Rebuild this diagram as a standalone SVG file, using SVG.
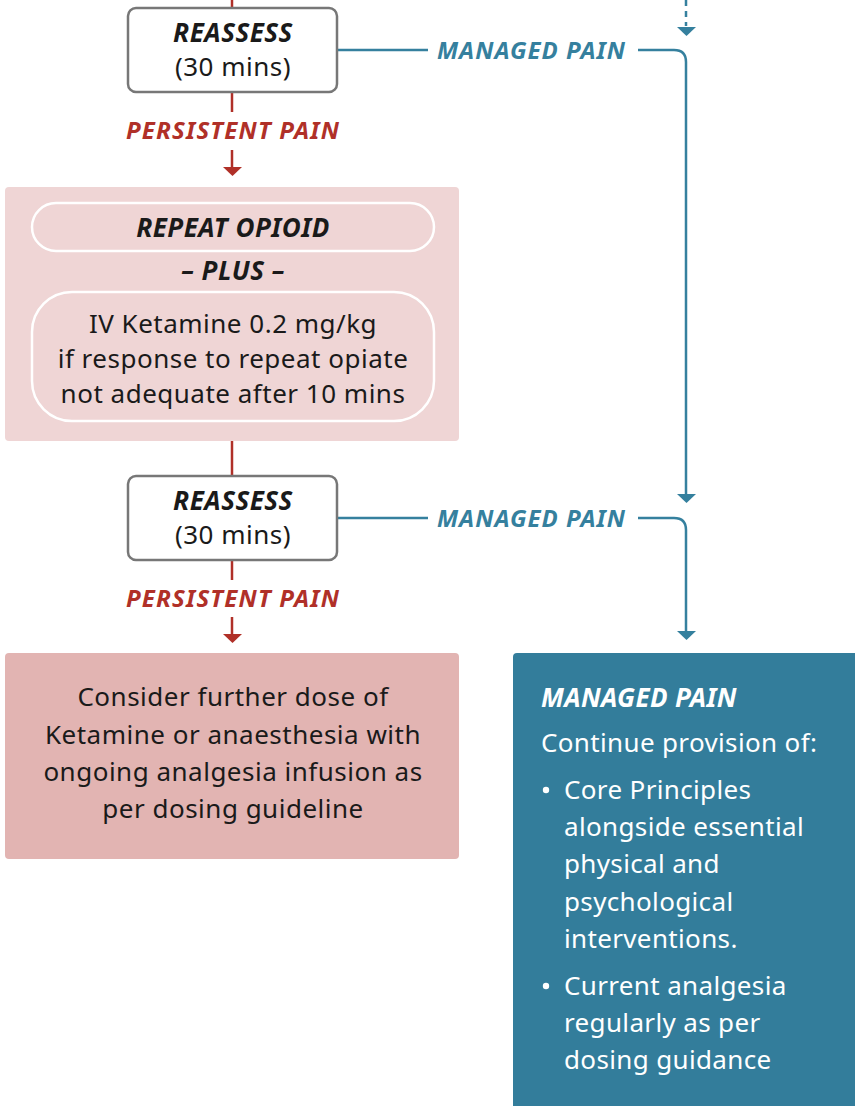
<svg xmlns="http://www.w3.org/2000/svg" width="855" height="1106" viewBox="0 0 855 1106">
<style>
text{font-family:"Noto Sans","Open Sans",sans-serif}
.t{fill:#1a1a1a;font-size:26px;text-anchor:middle;letter-spacing:0.5px}
.bi{font-weight:bold;font-style:italic}
.red{fill:#b03028;font-size:24px;font-weight:bold;font-style:italic;text-anchor:middle;letter-spacing:1.2px}
.blu{fill:#35809e;font-size:24px;font-weight:bold;font-style:italic;letter-spacing:1px}
.w{fill:#ffffff;font-size:26px;letter-spacing:0.35px}
.rl{stroke:#b03028;stroke-width:2.5;fill:none}
.bl{stroke:#35809e;stroke-width:2.5;fill:none}
.reas{fill:#ffffff;stroke:#777;stroke-width:2.5}
</style>
<g id="connectors">
<line class="rl" x1="232" y1="0" x2="232" y2="8"/>
<line class="rl" x1="232" y1="92" x2="232" y2="112"/>
<line class="rl" x1="232" y1="150" x2="232" y2="168"/>
<polygon points="223,167 242,167 232.5,176" fill="#b03028"/>
<line class="rl" x1="232" y1="441" x2="232" y2="476"/>
<line class="rl" x1="232" y1="560" x2="232" y2="580"/>
<line class="rl" x1="232" y1="617" x2="232" y2="635"/>
<polygon points="223,634 242,634 232.5,643" fill="#b03028"/>
<line class="bl" x1="686" y1="0" x2="686" y2="26" stroke-dasharray="6,5"/>
<polygon points="677,27 696,27 686.5,36" fill="#35809e"/>
<line class="bl" x1="337" y1="50" x2="428" y2="50"/>
<path class="bl" d="M638 50 H674 Q686 50 686 62 V495"/>
<polygon points="677,494 696,494 686.5,503" fill="#35809e"/>
<line class="bl" x1="337" y1="518" x2="428" y2="518"/>
<path class="bl" d="M638 518 H674 Q686 518 686 530 V631"/>
<polygon points="677,631 696,631 686.5,640" fill="#35809e"/>
<text class="red" x="233" y="139">PERSISTENT PAIN</text>
<text class="red" x="233" y="607">PERSISTENT PAIN</text>
<text class="blu" x="437" y="59">MANAGED PAIN</text>
<text class="blu" x="437" y="527">MANAGED PAIN</text>
</g>
<g id="reassess1">
<rect class="reas" x="128" y="8" width="209" height="84" rx="8"/>
<text class="t bi" x="233" y="42" font-size="24" letter-spacing="1.2">REASSESS</text>
<text class="t" x="233" y="76" font-size="24" letter-spacing="0.2">(30 mins)</text>
</g>
<g id="repeat-opioid">
<rect x="5" y="187" width="454" height="254" rx="4" fill="#efd5d5"/>
<rect x="32" y="203" width="402" height="48" rx="24" fill="none" stroke="#fff" stroke-width="2.5"/>
<text class="t bi" x="233" y="237" font-size="27" letter-spacing="1.4">REPEAT OPIOID</text>
<text class="t bi" x="233" y="280" font-size="24" letter-spacing="1.5">– PLUS –</text>
<rect x="32" y="292" width="402" height="129" rx="40" fill="none" stroke="#fff" stroke-width="2.5"/>
<text class="t" x="233" y="333">IV Ketamine 0.2 mg/kg</text>
<text class="t" x="233" y="368">if response to repeat opiate</text>
<text class="t" x="233" y="403">not adequate after 10 mins</text>
</g>
<g id="reassess2">
<rect class="reas" x="128" y="476" width="209" height="84" rx="8"/>
<text class="t bi" x="233" y="510" font-size="24" letter-spacing="1.2">REASSESS</text>
<text class="t" x="233" y="544" font-size="24" letter-spacing="0.2">(30 mins)</text>
</g>
<g id="consider">
<rect x="5" y="653" width="454" height="206" rx="4" fill="#e2b4b2"/>
<text class="t" x="233" y="706">Consider further dose of</text>
<text class="t" x="233" y="744">Ketamine or anaesthesia with</text>
<text class="t" x="233" y="781">ongoing analgesia infusion as</text>
<text class="t" x="233" y="818">per dosing guideline</text>
</g>
<g id="managed">
<rect x="513" y="653" width="350" height="460" rx="4" fill="#337d9b"/>
<text class="w bi" x="541" y="707" letter-spacing="0.6">MANAGED PAIN</text>
<text class="w" x="541" y="752">Continue provision of:</text>
<circle cx="546" cy="790" r="3.2" fill="#fff"/>
<text class="w" x="564" y="799">Core Principles</text>
<text class="w" x="564" y="836">alongside essential</text>
<text class="w" x="564" y="873">physical and</text>
<text class="w" x="564" y="911">psychological</text>
<text class="w" x="564" y="948">interventions.</text>
<circle cx="546" cy="986" r="3.2" fill="#fff"/>
<text class="w" x="564" y="995">Current analgesia</text>
<text class="w" x="564" y="1032">regularly as per</text>
<text class="w" x="564" y="1069">dosing guidance</text>
</g>
</svg>
